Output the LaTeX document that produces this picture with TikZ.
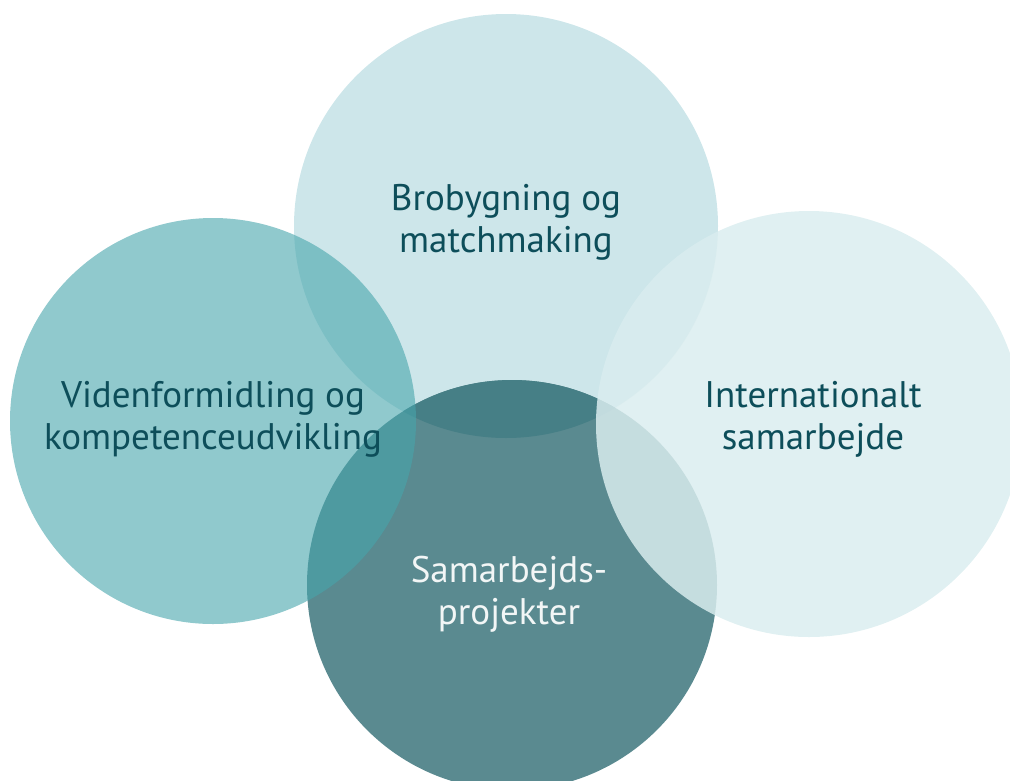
\documentclass[tikz,border=0pt]{standalone}
\usepackage{fontspec}
\setmainfont{PT Sans}

\definecolor{topfill}{HTML}{CDE6EA}
\definecolor{botfill}{HTML}{5A8A90}
\definecolor{lensfill}{HTML}{467F86}
\definecolor{leftfill}{HTML}{46A5AC}
\definecolor{rightfill}{HTML}{DAEDEF}
\definecolor{textteal}{HTML}{0D4E5A}
\definecolor{textlight}{HTML}{F2F6F6}

\begin{document}
\begin{tikzpicture}[x=1pt,y=-1pt,
    circtext/.style={align=center, inner sep=0pt, text=textteal,
      font=\fontsize{37}{42}\selectfont}]
    % ==== Parameters ====
    \def\RTOP{212pt}   \def\RBOT{205pt}   % top and bottom circles
    \def\RLEFT{203pt}  \def\RRIGHT{213pt} % left and right circles

    \useasboundingbox (0,0) rectangle (1010,780);

    % Circle centres
    \coordinate (ctop)   at (506,226);
    \coordinate (cbot)   at (512,585);
    \coordinate (cleft)  at (213,421);
    \coordinate (cright) at (809,424);

    % Top circle, then the bottom one over it
    \fill[topfill] (ctop) circle[radius=\RTOP];
    \fill[botfill] (cbot) circle[radius=\RBOT];
    % darker lens where they meet
    \begin{scope}
        \clip (ctop) circle[radius=\RTOP];
        \fill[lensfill] (cbot) circle[radius=\RBOT];
      \end{scope}

    % Left and right circles are see-through
    \fill[leftfill, fill opacity=0.6] (cleft) circle[radius=\RLEFT];
    \fill[rightfill, fill opacity=0.84] (cright) circle[radius=\RRIGHT];

    % Texts
    \node[circtext] (bro) at (506,222) {Brobygning og\\matchmaking};
    \node[circtext] (viden) at (213,419) {Videnformidling og\\kompetenceudvikling};
    \node[circtext] (inter) at (813,419) {Internationalt\\samarbejde};
    \node[circtext, text=textlight] (samarb) at (509,594) {Samarbejds-\\projekter};
  \end{tikzpicture}
\end{document}
